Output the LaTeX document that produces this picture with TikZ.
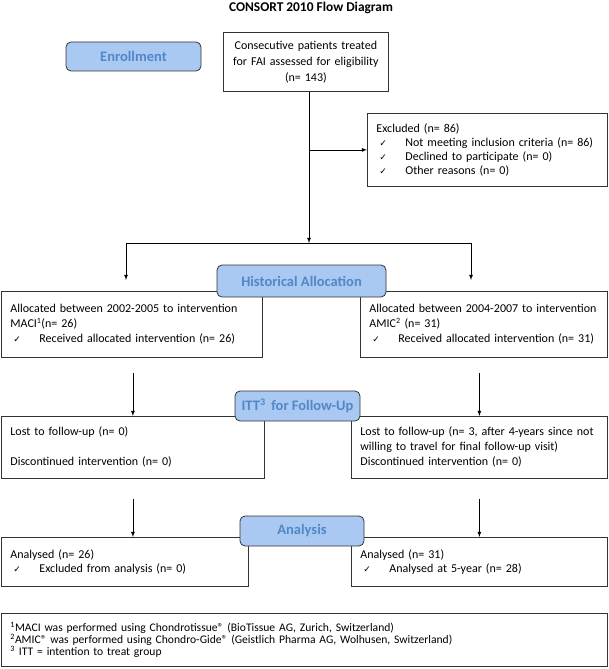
\documentclass[tikz,border=0pt]{standalone}
\usepackage{fontspec}
\setmainfont{Carlito}
\newfontfamily\symfont{DejaVu Sans}
\usepackage{tikz}
\usetikzlibrary{arrows}
\definecolor{stagefill}{HTML}{A9C8F2}
\definecolor{stagetext}{HTML}{5287C8}
\definecolor{edge}{HTML}{333333}
\newcommand{\boxfont}{\fontsize{12pt}{15pt}\selectfont}
\newcommand{\chkitem}{\hspace*{3pt}\makebox[26pt][l]{\symfont\fontsize{9pt}{9pt}\selectfont ✓}}
\tikzstyle{stage}=[rectangle, rounded corners=5pt, draw=edge, fill=stagefill, text=stagetext, font=\fontsize{14.5pt}{16pt}\selectfont\bfseries, inner sep=0pt]
\tikzstyle{infobox}=[rectangle, draw=edge, anchor=north west, align=left, inner xsep=9pt, inner ysep=0pt, font=\boxfont]

\begin{document}
\begin{tikzpicture}[x=1pt, y=-1pt, line width=0.8pt, >=latex]
				\useasboundingbox (0,0) rectangle (609,669);
				\node[font=\fontsize{13.4pt}{15pt}\selectfont\bfseries] (title) at (311,8) {CONSORT 2010 Flow Diagram};
				% enrollment
				\node[infobox, align=center, text width=147pt, minimum width=165pt, minimum height=59pt, font=\fontsize{12pt}{16pt}\selectfont] (screen) at (223,32)
					{Consecutive patients treated\\for FAI assessed for eligibility\\(n= 143)};
				\node[infobox, text width=222pt, minimum width=240pt, minimum height=73pt, font=\fontsize{12pt}{14pt}\selectfont] (excl) at (367,113)
					{Excluded (n= 86)\\
					\chkitem Not meeting inclusion criteria (n= 86)\\
					\chkitem Declined to participate (n= 0)\\
					\chkitem Other reasons (n= 0)};
				% allocation
				\node[infobox, text width=243pt, minimum width=261pt, minimum height=66pt] (allocL) at (1,291)
					{Allocated between 2002-2005 to intervention\\
					MACI\textsuperscript{1}(n= 26)\\
					\chkitem Received allocated intervention (n= 26)};
				\node[infobox, text width=229pt, minimum width=247pt, minimum height=66pt] (allocR) at (360,291)
					{Allocated between 2004-2007 to intervention\\
					AMIC\textsuperscript{2} (n= 31)\\
					\chkitem Received allocated intervention (n= 31)};
				% follow-up
				\node[infobox, text width=245pt, minimum width=263pt, minimum height=62pt] (fuL) at (1,416)
					{Lost to follow-up (n= 0)\\[15pt]
					Discontinued intervention (n= 0)};
				\node[infobox, text width=238pt, minimum width=256pt, minimum height=62pt] (fuR) at (351,416)
					{Lost to follow-up (n= 3, after 4-years since not\\
					willing to travel for final follow-up visit)\\
					Discontinued intervention (n= 0)};
				% analysis
				\node[infobox, text width=229pt, minimum width=247pt, minimum height=49pt, font=\fontsize{12pt}{14pt}\selectfont] (anL) at (1,537)
					{Analysed (n= 26)\\
					\chkitem Excluded from analysis (n= 0)};
				\node[infobox, text width=238pt, minimum width=256pt, minimum height=49pt, font=\fontsize{12pt}{14pt}\selectfont] (anR) at (351,537)
					{Analysed (n= 31)\\
					\chkitem Analysed at 5-year (n= 28)};
				\node[infobox, text width=588pt, minimum width=606pt, minimum height=53pt, font=\fontsize{11.6pt}{12pt}\selectfont] (notes) at (1,613)
					{\textsuperscript{1}MACI was performed using Chondrotissue® (BioTissue AG, Zurich, Switzerland)\\
					\textsuperscript{2}AMIC® was performed using Chondro-Gide® (Geistlich Pharma AG, Wolhusen, Switzerland)\\
					\textsuperscript{3} ITT = intention to treat group};
				% stage labels
				\node[stage, minimum width=135pt, minimum height=29pt] (enrol) at (133.5,56.5) {Enrollment};
				\node[stage, minimum width=169pt, minimum height=32pt] (alloc) at (301.5,281) {Historical Allocation};
				\node[stage, minimum width=125pt, minimum height=30pt] (itt) at (297.5,406) {ITT\textsuperscript{3}\, for Follow-Up};
				\node[stage, minimum width=124pt, minimum height=30pt] (anal) at (302,531) {Analysis};
				% connectors
				\coordinate (split) at (309,243);
				\coordinate (branchL) at (126,243);
				\coordinate (branchR) at (471,243);
				\draw[->] (screen.south -| split) -- (split);
				\draw[->] (split |- excl.west) -- (excl.west);
				\draw (branchL) -- (branchR);
				\draw[->, shorten >=11pt] (branchL) -- (branchL |- allocL.north);
				\draw[->, shorten >=11pt] (branchR) -- (branchR |- allocR.north);
				\draw[->, shorten <=15pt] (fuL.north |- allocL.south) -- (fuL.north);
				\draw[->, shorten <=15pt] (fuR.north |- allocR.south) -- (fuR.north);
				\draw[->, shorten <=20pt] (fuL.south) -- (fuL.south |- anL.north);
				\draw[->, shorten <=20pt] (fuR.south) -- (fuR.south |- anR.north);
			\end{tikzpicture}
\end{document}
